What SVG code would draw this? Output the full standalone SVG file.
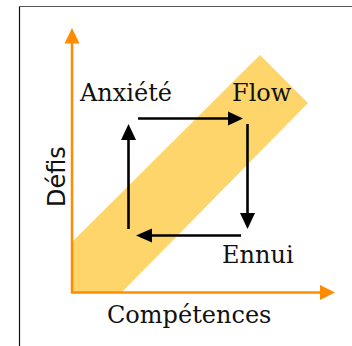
<svg xmlns="http://www.w3.org/2000/svg" width="352" height="346" viewBox="0 0 352 346">
  <style>
    .lbl { font-family: "DejaVu Serif", "Liberation Serif", serif; font-size: 24px; fill: #111; }
    .lbl-sans { font-family: "DejaVu Sans", "Liberation Sans", sans-serif; font-size: 24px; fill: #111; }
    .axis { stroke: #FF8C00; stroke-width: 2.5; fill: none; }
    .flow { stroke: #000; stroke-width: 2.6; fill: none; }
  </style>

  <!-- frame -->
  <path d="M19.5,346 V6.5" fill="none" stroke="#111" stroke-width="1.2"/>
  <path d="M19,6.5 H352" fill="none" stroke="#555" stroke-width="1.2"/>

  <!-- flow channel band -->
  <g id="band">
    <polygon points="72,242 260,55 308,103 122,292 72,292" fill="#FDD56B"/>
  </g>

  <!-- axes -->
  <g id="axes">
    <line class="axis" x1="72" y1="293" x2="72" y2="43"/>
    <polygon points="64.5,43.5 72,28 79.5,43.5" fill="#FF8C00"/>
    <line class="axis" x1="71" y1="292.5" x2="320" y2="292.5"/>
    <polygon points="320,285 335,292.5 320,300" fill="#FF8C00"/>
  </g>

  <!-- cycle connectors -->
  <g id="connectors">
    <line class="flow" x1="138" y1="118.5" x2="229" y2="118.5"/>
    <polygon points="228,111.5 243,118.5 228,125.5" fill="#000"/>
    <line class="flow" x1="247.5" y1="124" x2="247.5" y2="214"/>
    <polygon points="240,213 247.5,229 255,213" fill="#000"/>
    <line class="flow" x1="241" y1="235.5" x2="151" y2="235.5"/>
    <polygon points="152,228.5 136,235.5 152,242.5" fill="#000"/>
    <line class="flow" x1="128.5" y1="229" x2="128.5" y2="139"/>
    <polygon points="121,140 128.5,124 136,140" fill="#000"/>
  </g>

  <g id="anxiete"><text class="lbl" x="80" y="101">Anxiété</text></g>
  <g id="flow"><text class="lbl" x="232" y="101">Flow</text></g>
  <g id="ennui"><text class="lbl" x="222" y="263">Ennui</text></g>
  <g id="competences"><text class="lbl" x="107" y="323">Compétences</text></g>
  <g id="defis"><text class="lbl-sans" transform="translate(64.5,207) rotate(-90)">Défis</text></g>
</svg>
